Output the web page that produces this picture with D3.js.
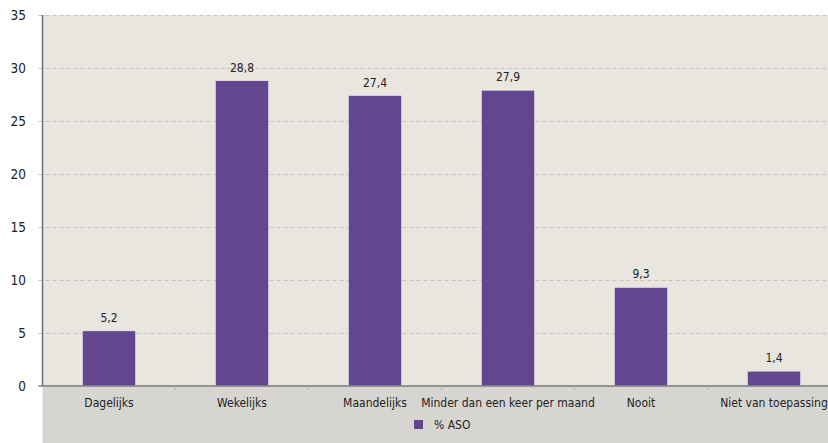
<!DOCTYPE html>
<html><head><meta charset="utf-8">
<script src="https://cdn.jsdelivr.net/npm/d3@7"></script>
<style>
body{margin:0;background:#fff;}
text{font-family:"DejaVu Sans Condensed","DejaVu Sans",sans-serif;font-stretch:condensed;fill:#222;}
</style></head><body>
<svg id="c" width="828" height="443"></svg>
<script>
const categories = ["Dagelijks","Wekelijks","Maandelijks","Minder dan een keer per maand","Nooit","Niet van toepassing"];
const values = [5.2, 28.8, 27.4, 27.9, 9.3, 1.4];
const yTicks = [0,5,10,15,20,25,30,35];
const seriesName = "% ASO";
const fmt = v => String(v.toFixed(1)).replace(".", ",");

const svg = d3.select("#c");
const pLeft = 42.5, pRight = 840.5, pTop = 15, pBottom = 386;
const x = d3.scaleBand().domain(categories).range([pLeft, pRight]).paddingInner(0.6).paddingOuter(0.3);
const y = d3.scaleLinear().domain([0,35]).range([pBottom, pTop]);

// plot background
svg.append("rect").attr("x", pLeft).attr("y", pTop).attr("width", 828-pLeft).attr("height", pBottom-pTop).attr("fill", "#e9e5df");
svg.append("rect").attr("x", pLeft).attr("y", pBottom).attr("width", 828-pLeft).attr("height", 443-pBottom).attr("fill", "#d7d5d1");

// gridlines
svg.append("g").selectAll("line").data(yTicks.filter(d=>d>0)).join("line")
  .attr("x1", pLeft-4).attr("x2", 828).attr("y1", d=>y(d)+0.5).attr("y2", d=>y(d)+0.5)
  .attr("stroke", "#c4c2bf").attr("stroke-width", 1).attr("stroke-dasharray", "4,3");

// y labels
svg.append("g").selectAll("text").data(yTicks).join("text")
  .attr("x", 26).attr("y", d=>y(d)).attr("dy", "0.35em").attr("text-anchor", "end")
  .style("font-size", "13.5px").text(d=>d);

// bars
svg.append("g").selectAll("rect").data(values).join("rect")
  .attr("x", (d,i)=>x(categories[i])).attr("width", x.bandwidth())
  .attr("y", d=>y(d)).attr("height", d=>pBottom-y(d))
  .attr("fill", "#634690").attr("stroke", "#efeaf2").attr("stroke-width", 0.6);

// value labels
svg.append("g").selectAll("text").data(values).join("text")
  .attr("x", (d,i)=>x(categories[i])+x.bandwidth()/2).attr("y", d=>y(d)-9)
  .attr("text-anchor", "middle").style("font-size", "12px").text(d=>fmt(d));

// axes lines
svg.append("line").attr("x1", pLeft).attr("x2", pLeft).attr("y1", pTop).attr("y2", pBottom)
  .attr("stroke", "#6e6e6e").attr("stroke-width", 1.5);
svg.append("line").attr("x1", pLeft-4).attr("x2", 828).attr("y1", pBottom).attr("y2", pBottom)
  .attr("stroke", "#7a7a7a").attr("stroke-width", 1.5);

// x ticks at band boundaries
const step = x.step();
const bounds = d3.range(1, categories.length).map(i => pLeft + i*step);
svg.append("g").selectAll("line").data(bounds).join("line")
  .attr("x1", d=>d).attr("x2", d=>d).attr("y1", pBottom).attr("y2", pBottom+4)
  .attr("stroke", "#b8b6b2").attr("stroke-width", 1);

// x labels
svg.append("g").selectAll("text").data(categories).join("text")
  .attr("x", d=>x(d)+x.bandwidth()/2).attr("y", 407)
  .attr("text-anchor", "middle").style("font-size", "12px").text(d=>d);

// legend
svg.append("rect").attr("x", 414).attr("y", 420).attr("width", 9).attr("height", 9).attr("fill", "#634690");
svg.append("text").attr("x", 434).attr("y", 429).style("font-size", "12px").text(seriesName);
</script>
</body></html>
